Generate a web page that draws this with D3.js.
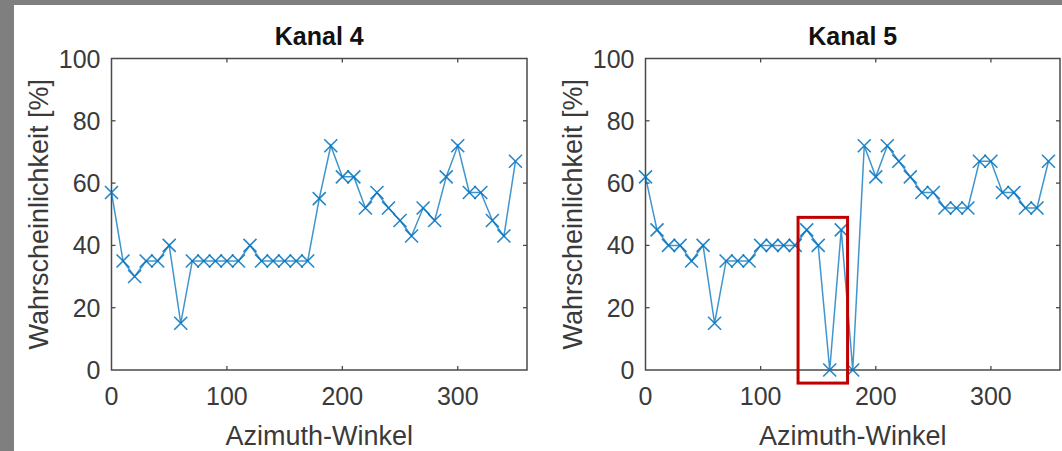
<!DOCTYPE html>
<html>
<head>
<meta charset="utf-8">
<script src="https://cdn.jsdelivr.net/npm/d3@7"></script>
<style>
  html, body { margin: 0; padding: 0; background: #fff; }
  svg { display: block; }
</style>
</head>
<body>
<div id="chart"></div>
<script>
// Data
const angles = d3.range(0, 360, 10);
const kanal4 = [57, 35, 30, 35, 35, 40, 15, 35, 35, 35, 35, 35, 40, 35, 35, 35, 35, 35,
                55, 72, 62, 62, 52, 57, 52, 48, 43, 52, 48, 62, 72, 57, 57, 48, 43, 67];
const kanal5 = [62, 45, 40, 40, 35, 40, 15, 35, 35, 35, 40, 40, 40, 40, 45, 40, 0, 45,
                0, 72, 62, 72, 67, 62, 57, 57, 52, 52, 52, 67, 67, 57, 57, 52, 52, 67];
const titles = ["Kanal 4", "Kanal 5"];
const xTicks = [0, 100, 200, 300];
const yTicks = [0, 20, 40, 60, 80, 100];
const xDomain = [0, 360];
const yDomain = [0, 100];
// highlighted region in panel 2 (data units)
const highlight = { x0: 132.5, x1: 175.5, y0: -4.2, y1: 49 };

const width = 1062, height = 451;
const panels = [
  { left: 111.5, right: 527, values: kanal4, title: titles[0] },
  { left: 645.5, right: 1060, values: kanal5, title: titles[1], box: highlight }
];
const plotTop = 58.5, plotBottom = 370;

const svg = d3.select("#chart")
  .append("svg")
  .attr("width", width)
  .attr("height", height);

// grey frame of the screenshot
svg.append("rect").attr("x", 0).attr("y", 0).attr("width", width).attr("height", height).attr("fill", "#7f7f7f");
svg.append("rect").attr("x", 14).attr("y", 5).attr("width", width - 14).attr("height", height - 5).attr("fill", "#fff");

const font = "'Liberation Sans', Arial, Helvetica, sans-serif";
const textColor = "#3a3a3a";
const axisColor = "#4a4a4a";
const blue = "#0072BD";

panels.forEach(p => {
  const x = d3.scaleLinear().domain(xDomain).range([p.left, p.right]);
  const y = d3.scaleLinear().domain(yDomain).range([plotBottom, plotTop]);
  const g = svg.append("g");

  // ticks inside (bottom/top, left/right)
  const tickLen = 4;
  xTicks.slice(1).forEach(t => {
    g.append("line").attr("x1", x(t)).attr("x2", x(t)).attr("y1", plotBottom).attr("y2", plotBottom - tickLen)
      .attr("stroke", axisColor).attr("stroke-width", 1.3);
    g.append("line").attr("x1", x(t)).attr("x2", x(t)).attr("y1", plotTop).attr("y2", plotTop + tickLen)
      .attr("stroke", axisColor).attr("stroke-width", 1.3);
  });
  yTicks.slice(1, -1).forEach(t => {
    g.append("line").attr("x1", p.left).attr("x2", p.left + tickLen).attr("y1", y(t)).attr("y2", y(t))
      .attr("stroke", axisColor).attr("stroke-width", 1.3);
    g.append("line").attr("x1", p.right).attr("x2", p.right - tickLen).attr("y1", y(t)).attr("y2", y(t))
      .attr("stroke", axisColor).attr("stroke-width", 1.3);
  });

  // axes box
  g.append("rect")
    .attr("x", p.left).attr("y", plotTop)
    .attr("width", p.right - p.left).attr("height", plotBottom - plotTop)
    .attr("fill", "none").attr("stroke", axisColor).attr("stroke-width", 1.5);

  // tick labels
  g.selectAll(".xt").data(xTicks).join("text")
    .attr("x", d => x(d)).attr("y", plotBottom + 35)
    .attr("text-anchor", "middle")
    .attr("font-family", font).attr("font-size", 25).attr("fill", textColor)
    .text(d => d);
  g.selectAll(".yt").data(yTicks).join("text")
    .attr("x", p.left - 11).attr("y", d => y(d) + 9)
    .attr("text-anchor", "end")
    .attr("font-family", font).attr("font-size", 25).attr("fill", textColor)
    .text(d => d);

  // axis labels
  g.append("text")
    .attr("x", (p.left + p.right) / 2).attr("y", 445)
    .attr("text-anchor", "middle")
    .attr("font-family", font).attr("font-size", 27).attr("fill", textColor)
    .text("Azimuth-Winkel");
  g.append("text")
    .attr("transform", `translate(${p.left - 64},${(plotTop + plotBottom) / 2}) rotate(-90)`)
    .attr("text-anchor", "middle")
    .attr("font-family", font).attr("font-size", 27).attr("fill", textColor)
    .text("Wahrscheinlichkeit [%]");

  // title
  g.append("text")
    .attr("x", (p.left + p.right) / 2).attr("y", 45)
    .attr("text-anchor", "middle")
    .attr("font-family", font).attr("font-size", 25).attr("font-weight", "bold").attr("fill", "#111")
    .text(p.title);

  // line
  const pts = angles.map((a, i) => ({ a, v: p.values[i] }));
  g.append("path")
    .datum(pts)
    .attr("fill", "none")
    .attr("stroke", blue).attr("stroke-opacity", 0.75)
    .attr("stroke-width", 1.5)
    .attr("d", d3.line().x(d => x(d.a)).y(d => y(d.v)));

  // x markers
  const m = 6.5;
  g.selectAll(".mk").data(pts).join("path")
    .attr("d", d => {
      const cx = x(d.a), cy = y(d.v);
      return `M${cx - m},${cy - m}L${cx + m},${cy + m}M${cx - m},${cy + m}L${cx + m},${cy - m}`;
    })
    .attr("stroke", blue).attr("stroke-opacity", 0.85)
    .attr("stroke-width", 1.6).attr("fill", "none");

  // red highlight box
  if (p.box) {
    g.append("rect")
      .attr("x", x(p.box.x0)).attr("y", y(p.box.y1))
      .attr("width", x(p.box.x1) - x(p.box.x0))
      .attr("height", y(p.box.y0) - y(p.box.y1))
      .attr("fill", "none").attr("stroke", "#c00000").attr("stroke-width", 3);
  }
});
</script>
</body>
</html>
